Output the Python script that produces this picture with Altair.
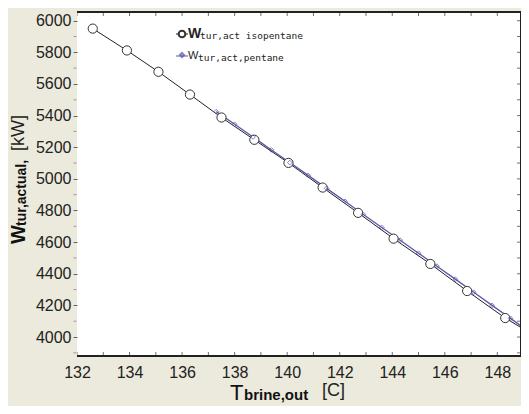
import altair as alt
import pandas as pd

# --- data ---
iso_T = [132.6, 133.9, 135.1, 136.3, 137.5, 138.75, 140.05, 141.35, 142.7, 144.05, 145.45, 146.85, 148.3, 149.2]
iso_W = [5950, 5812, 5677, 5533, 5388, 5247, 5101, 4945, 4785, 4622, 4462, 4291, 4120, 4030]

pen_T = [137.3, 138.0, 138.7, 139.4, 140.1, 140.8, 141.5, 142.2, 142.9, 143.6, 144.3, 145.0,
         145.7, 146.4, 147.1, 147.8, 148.5, 149.2]
pen_W = [5425, 5345, 5265, 5183, 5103, 5022, 4940, 4858, 4775, 4693, 4612, 4530,
         4448, 4366, 4283, 4200, 4118, 4035]

x_ticks = list(range(132, 149))
y_major = list(range(4000, 6001, 200))
y_all = list(range(3900, 6001, 100))
y_minor = [v for v in y_all if v not in y_major]

W, H = 444, 344
FONT = "Liberation Sans"

xs = alt.Scale(domain=[132, 148.9], nice=False, zero=False)
ys = alt.Scale(domain=[3880, 6055], nice=False, zero=False)

x_axis = alt.Axis(values=list(range(132, 149, 2)), format="d", title=None, domain=False, ticks=False,
                  grid=False, labelFont=FONT, labelFontSize=16, labelColor="#222", labelPadding=8,
                  labelFlush=False, labelOverlap=False)
y_axis = alt.Axis(values=y_major, format="d", title=None, domain=False, ticks=True, tickSize=4,
                  tickColor="#666", grid=False, labelFont=FONT, labelFontSize=16, labelColor="#222",
                  labelPadding=2, labelFlush=False, labelOverlap=False)


def X(f="T"):
    return alt.X(f"{f}:Q", scale=xs, axis=x_axis)


def Y(f="W"):
    return alt.Y(f"{f}:Q", scale=ys, axis=y_axis)


iso = pd.DataFrame({"T": iso_T, "W": iso_W})
pen = pd.DataFrame({"T": pen_T, "W": pen_W})

iso_line = alt.Chart(iso).mark_line(color="#222", strokeWidth=1, clip=True).encode(x=X(), y=Y())
iso_pts = alt.Chart(iso).mark_point(shape="circle", size=85, filled=True, fill="white", stroke="#333",
                                    strokeWidth=1, opacity=1, clip=True).encode(x=X(), y=Y())
pen_line = alt.Chart(pen).mark_line(color="#5858aa", strokeWidth=1.3, clip=True).encode(x=X(), y=Y())
pen_pts = alt.Chart(pen).mark_point(shape="diamond", size=22, filled=False, stroke="#5050a8",
                                    strokeWidth=1, clip=True).encode(x=X(), y=Y())

# frame ticks
xt = pd.DataFrame({"T": x_ticks})
yt = pd.DataFrame({"W": y_all})
ytm = pd.DataFrame({"W": y_minor})
bot_ticks = alt.Chart(xt).mark_tick(orient="vertical", size=8, thickness=1, color="#333", clip=True).encode(
    x=X(), y=alt.value(H))
top_ticks = alt.Chart(xt).mark_tick(orient="vertical", size=8, thickness=1, color="#333", clip=True).encode(
    x=X(), y=alt.value(0))
right_ticks = alt.Chart(yt).mark_tick(orient="horizontal", size=8, thickness=1, color="#333", clip=True).encode(
    y=Y(), x=alt.value(W))
left_minor = alt.Chart(ytm).mark_tick(orient="horizontal", size=3, thickness=1, color="#777").encode(
    y=Y(), x=alt.value(-2))

frame_top = alt.Chart(xt).mark_rule(color="#222", strokeWidth=1.2).encode(
    x=alt.value(0), x2=alt.value(W), y=alt.value(0))
frame_bot = alt.Chart(xt).mark_rule(color="#222", strokeWidth=1.5).encode(
    x=alt.value(0), x2=alt.value(W), y=alt.value(H))
frame_right = alt.Chart(xt).mark_rule(color="#222", strokeWidth=1.2).encode(
    x=alt.value(W), y=alt.value(0), y2=alt.value(H))

one = pd.DataFrame({"a": [0]})

# legend
leg_line1 = alt.Chart(one).mark_rule(color="#222", strokeWidth=1).encode(
    x=alt.value(99), x2=alt.value(111), y=alt.value(22))
leg_pt1 = alt.Chart(one).mark_point(shape="circle", size=45, filled=True, fill="white", stroke="#333",
                                    opacity=1).encode(x=alt.value(105), y=alt.value(22))
leg_line2 = alt.Chart(one).mark_rule(color="#5858aa", strokeWidth=1).encode(
    x=alt.value(99), x2=alt.value(111), y=alt.value(44))
leg_pt2 = alt.Chart(one).mark_point(shape="diamond", size=16, filled=False, stroke="#5050a8").encode(
    x=alt.value(105), y=alt.value(43))
leg_t1a = alt.Chart(one).mark_text(text="W", font=FONT, fontSize=14, fontWeight="bold", align="left",
                                   baseline="middle", color="#222").encode(x=alt.value(111), y=alt.value(22))
leg_t1b = alt.Chart(one).mark_text(text="tur,act isopentane", font="DejaVu Sans Mono", fontSize=9.5,
                                   align="left", baseline="middle", color="#222").encode(
    x=alt.value(123), y=alt.value(24))
leg_t2a = alt.Chart(one).mark_text(text="W", font=FONT, fontSize=11, align="left",
                                   baseline="middle", color="#222").encode(x=alt.value(111), y=alt.value(44))
leg_t2b = alt.Chart(one).mark_text(text="tur,act,pentane", font="DejaVu Sans Mono", fontSize=9.5,
                                   align="left", baseline="middle", color="#222").encode(
    x=alt.value(121), y=alt.value(46))

# axis titles (rich text in pieces)
yt_W = alt.Chart(one).mark_text(text="W", font=FONT, fontSize=20, fontWeight="bold", angle=270,
                                align="left", baseline="middle", color="#111").encode(
    x=alt.value(-58), y=alt.value(232))
yt_sub = alt.Chart(one).mark_text(text="tur,actual,", font=FONT, fontSize=14, fontWeight="bold", angle=270,
                                  align="left", baseline="middle", color="#111").encode(
    x=alt.value(-55), y=alt.value(214))
yt_unit = alt.Chart(one).mark_text(text="[kW]", font=FONT, fontSize=18, angle=270,
                                   align="left", baseline="middle", color="#222").encode(
    x=alt.value(-58), y=alt.value(139))

xt_T = alt.Chart(one).mark_text(text="T", font=FONT, fontSize=22, align="left", baseline="alphabetic",
                                color="#111").encode(x=alt.value(153), y=alt.value(388))
xt_sub = alt.Chart(one).mark_text(text="brine,out", font=FONT, fontSize=15, fontWeight="bold", align="left",
                                  baseline="alphabetic", color="#111").encode(x=alt.value(167), y=alt.value(388))
xt_unit = alt.Chart(one).mark_text(text="[C]", font=FONT, fontSize=18, align="left", baseline="alphabetic",
                                   color="#222").encode(x=alt.value(245), y=alt.value(384))

chart = alt.layer(
    iso_line, pen_line, iso_pts, pen_pts,
    bot_ticks, top_ticks, right_ticks, left_minor,
    frame_top, frame_bot, frame_right,
    leg_line1, leg_pt1, leg_line2, leg_pt2, leg_t1a, leg_t1b, leg_t2a, leg_t2b,
    yt_W, yt_sub, yt_unit, xt_T, xt_sub, xt_unit,
).properties(
    width=W, height=H,
    autosize=alt.AutoSizeParams(type="none"),
    padding={"left": 69, "top": 4, "right": 0, "bottom": 50},
    background="#ECEADC",
).configure_view(fill="white", stroke=None)

chart.save("out.html", embed_options={"renderer": "svg", "actions": False})
